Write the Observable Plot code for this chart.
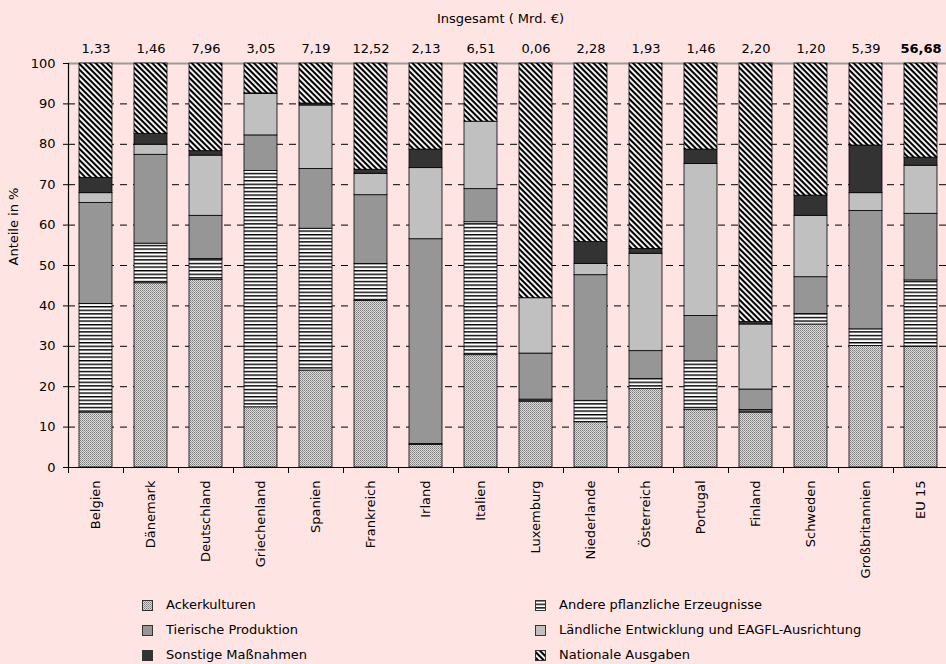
<!DOCTYPE html>
<html><head><meta charset="utf-8">
<script src="https://cdn.jsdelivr.net/npm/d3@7"></script>
<script src="https://cdn.jsdelivr.net/npm/@observablehq/plot@0.6"></script>
<style>
body{margin:0;background:#ffe4e4;font-family:"DejaVu Sans",sans-serif;}
#chart{position:relative;width:946px;height:664px;overflow:hidden;}
.lg{position:absolute;font-size:13px;line-height:16px;white-space:nowrap;color:#000;}
.lg svg{position:absolute;left:0;top:3px;}
.lg span{position:absolute;left:24px;top:0;}
</style></head><body><div id="chart"></div><script>
const countries = ["Belgien","Dänemark","Deutschland","Griechenland","Spanien","Frankreich","Irland","Italien","Luxemburg","Niederlande","Österreich","Portugal","Finland","Schweden","Großbritannien","EU 15"];
const totals = ["1,33","1,46","7,96","3,05","7,19","12,52","2,13","6,51","0,06","2,28","1,93","1,46","2,20","1,20","5,39","56,68"];
const categories = ["Ackerkulturen","Andere pflanzliche Erzeugnisse","Tierische Produktion","Ländliche Entwicklung und EAGFL-Ausrichtung","Sonstige Maßnahmen","Nationale Ausgaben"];
const ackerkulturen = [13.6,45.6,46.4,14.9,24.0,41.2,5.6,27.8,16.3,11.2,19.4,14.2,13.6,35.4,30.1,29.9];
const anderePflanzliche = [26.9,9.8,5.2,58.5,35.1,9.2,0.2,32.9,0.5,5.3,2.5,12.1,0.6,2.6,4.1,16.4];
const tierische = [25.0,22.0,10.7,8.8,14.8,17.0,50.7,8.2,11.4,31.1,6.9,11.2,5.1,9.1,29.3,16.5];
const laendliche = [2.4,2.5,14.9,10.3,15.7,5.3,17.6,16.7,13.7,2.8,24.1,37.6,16.1,15.2,4.4,11.9];
const sonstige = [3.8,2.7,1.1,0.1,0.5,1.0,4.6,0.0,0.0,5.4,1.2,3.6,0.6,5.0,11.8,2.0];
const nationale = [28.3,17.4,21.7,7.4,9.9,26.3,21.3,14.4,58.1,44.2,45.9,21.3,64.0,32.7,20.3,23.3];
const yTicks = [0,10,20,30,40,50,60,70,80,90,100];
const gridTicks = [10,20,30,40,50,60,70,80,90];

const series = [ackerkulturen, anderePflanzliche, tierische, laendliche, sonstige, nationale];
const fills = ["url(#pAcker)","url(#pAndere)","#969696","#c0c0c0","#333333","url(#pNat)"];
const table = [];
countries.forEach((c, i) => series.forEach((s, j) => table.push({country: c, cat: categories[j], value: s[i]})));
const totalRows = countries.map((c, i) => ({country: c, total: totals[i], bold: c === "EU 15"}));

const NS = "http://www.w3.org/2000/svg";
function defs() {
  const g = document.createElementNS(NS, "defs");
  g.innerHTML = `
  <pattern id="pAcker" width="2" height="2" patternUnits="userSpaceOnUse">
    <rect width="2" height="2" fill="#dcdcdc"/>
    <rect x="0" y="0" width="1" height="1" fill="#7a7a7a"/>
    <rect x="1" y="1" width="1" height="1" fill="#9a9a9a"/>
  </pattern>
  <pattern id="pAndere" width="4" height="3.6" patternUnits="userSpaceOnUse">
    <rect width="4" height="3.6" fill="#fff"/>
    <rect y="0" width="4" height="1.4" fill="#000"/>
  </pattern>
  <pattern id="pNat" width="4" height="4" patternUnits="userSpaceOnUse" patternTransform="rotate(45)">
    <rect width="4" height="4" fill="#fff"/>
    <rect width="4" height="2.1" fill="#000"/>
  </pattern>`;
  return g;
}

const plot = Plot.plot({
  width: 946, height: 590,
  marginTop: 63, marginBottom: 123, marginLeft: 68, marginRight: -2,
  style: {fontFamily: "DejaVu Sans", fontSize: "13px", background: "transparent", color: "#000", overflow: "visible"},
  x: {domain: countries, paddingInner: 0.4, paddingOuter: 0.2, axis: null},
  y: {domain: [0, 100], axis: null},
  color: {domain: categories, range: fills},
  marks: [
    defs,
    Plot.ruleY(gridTicks, {stroke: "#000", strokeWidth: 1, strokeDasharray: "7,6"}),
    Plot.ruleY([100], {stroke: "#9a9a9a", strokeWidth: 2}),
    Plot.barY(table, {x: "country", y: "value", fill: "cat", stroke: "#000", strokeWidth: 0.8}),
    Plot.ruleY([0], {stroke: "#000", strokeWidth: 1.2}),
    Plot.frame({anchor: "left", stroke: "#000", strokeWidth: 1.2}),
    Plot.axisY({ticks: yTicks, tickSize: 5, tickPadding: 8, label: null, fontSize: 13}),
    Plot.axisX({tickSize: 6, tickFormat: () => "", dx: -27.5, label: null}),
    Plot.axisX({tickSize: 0, tickRotate: -90, tickPadding: 13, label: null, fontSize: 13}),
    Plot.text(totalRows, {filter: d => !d.bold, x: "country", text: "total", frameAnchor: "top", dy: -20, fontSize: 13}),
    Plot.text(totalRows, {filter: d => d.bold, x: "country", text: "total", frameAnchor: "top", dy: -20, fontSize: 13, fontWeight: "bold"}),
    Plot.text(["Insgesamt ( Mrd. €)"], {frameAnchor: "top", dy: -50, dx: -8, fontSize: 13}),
    Plot.text(["Anteile in %"], {frameAnchor: "left", dx: -55, rotate: -90, fontSize: 13})
  ]
});
const chart = document.getElementById("chart");
chart.appendChild(plot);

const legendPos = [[142, 597], [535, 597], [142, 622], [535, 622], [142, 647], [535, 647]];
categories.forEach((cat, k) => {
  const [lx, ly] = legendPos[k];
  const d = document.createElement("div");
  d.className = "lg";
  d.style.left = lx + "px";
  d.style.top = ly + "px";
  d.innerHTML = `<svg width="11" height="11"><rect x="0.5" y="0.5" width="10" height="10" fill="${fills[k]}" stroke="#333" stroke-width="1"/></svg><span></span>`;
  d.querySelector("span").textContent = cat;
  chart.appendChild(d);
});
</script></body></html>
